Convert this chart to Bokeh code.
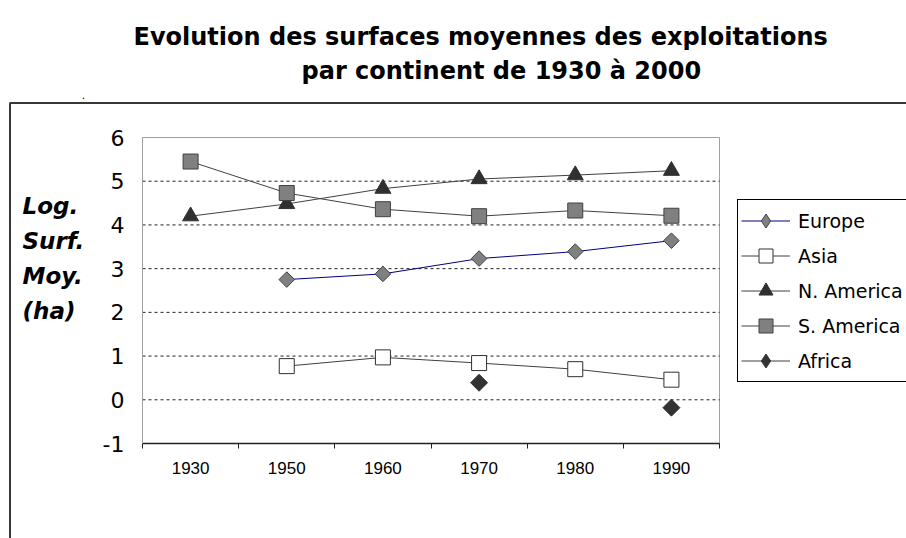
import math
from bokeh.plotting import figure
from bokeh.models import (Range1d, FixedTicker, Label, Legend, LegendItem,
                          BoxAnnotation, ColumnDataSource)
from bokeh.embed import file_html
from bokeh.resources import INLINE

# ---------------- data ----------------
years = ["1930", "1950", "1960", "1970", "1980", "1990"]
nan = float("nan")
europe = [nan, 2.75, 2.88, 3.23, 3.39, 3.64]
asia = [nan, 0.77, 0.97, 0.84, 0.70, 0.46]
n_america = [4.20, 4.48, 4.83, 5.05, 5.14, 5.24]
s_america = [5.45, 4.73, 4.36, 4.20, 4.33, 4.21]
africa = [nan, nan, nan, 0.39, nan, -0.18]
y_ticks = [-1, 0, 1, 2, 3, 4, 5, 6]
grid_ticks = [0, 1, 2, 3, 4, 5]
y_min, y_max = -1, 6

# ---------------- layout (pixels) ----------------
W, H = 906, 538
PL, PR, PT, PB = 142, 719, 137, 443      # plot area in page pixels
n = len(years)
sx = (PR - PL) / n
sy = (PB - PT) / (y_max - y_min)

def px2x(px):
    return (px - PL) / sx

def py2y(py):
    return y_max - (py - PT) / sy

xpos = [i + 0.5 for i in range(n)]

p = figure(width=W, height=H, output_backend="svg", toolbar_location=None,
           x_range=Range1d(px2x(0), px2x(W)), y_range=Range1d(py2y(H), py2y(0)),
           min_border=0, min_border_left=0, min_border_right=0,
           min_border_top=0, min_border_bottom=0)
p.background_fill_color = "white"
p.border_fill_color = "white"
p.outline_line_color = None
p.xgrid.visible = False
p.ygrid.visible = False

# plot-area border (grey)
p.add_layout(BoxAnnotation(left=0, right=n, bottom=y_min, top=y_max,
                           fill_alpha=0, fill_color=None,
                           line_color="#a0a0a0", line_alpha=1, line_width=1,
                           level="underlay"))

# outer chart box
p.add_layout(BoxAnnotation(left=px2x(9.5), right=px2x(W + 20), top=py2y(102.5),
                           bottom=py2y(H + 20), fill_alpha=0, fill_color=None,
                           line_color="#383838", line_alpha=1, line_width=2,
                           level="underlay"))

# dotted horizontal grid
p.segment(x0=[0] * len(grid_ticks), x1=[n] * len(grid_ticks),
          y0=grid_ticks, y1=grid_ticks, line_color="#202020",
          line_dash="3 3", line_width=1)

# axes (inside the frame, at fixed positions)
p.yaxis.fixed_location = 0
p.yaxis.bounds = (y_min, y_max)
p.yaxis.ticker = FixedTicker(ticks=y_ticks)
p.yaxis.major_label_overrides = {t: str(t) for t in y_ticks}
p.yaxis.major_tick_out = 0
p.yaxis.major_tick_in = 0
p.yaxis.minor_tick_line_color = None
p.yaxis.axis_line_color = "#a0a0a0"
p.yaxis.major_label_text_font = "DejaVu Sans"
p.yaxis.major_label_text_font_size = "22px"
p.yaxis.major_label_text_color = "#000000"
p.yaxis.major_label_standoff = 18

p.xaxis.fixed_location = y_min
p.xaxis.bounds = (0, n)
p.xaxis.ticker = FixedTicker(ticks=xpos, minor_ticks=list(range(n + 1)))
p.xaxis.major_label_overrides = {x: y for x, y in zip(xpos, years)}
p.xaxis.major_tick_out = 0
p.xaxis.major_tick_in = 0
p.xaxis.minor_tick_out = 5
p.xaxis.minor_tick_in = 0
p.xaxis.minor_tick_line_color = "#202020"
p.xaxis.axis_line_color = "#202020"
p.xaxis.axis_line_width = 1.5
p.xaxis.major_label_text_font = "Liberation Sans"
p.xaxis.major_label_text_font_size = "17px"
p.xaxis.major_label_text_color = "#000000"
p.xaxis.major_label_standoff = 13

# ---------------- series ----------------
src = ColumnDataSource(dict(x=xpos, europe=europe, asia=asia, na=n_america,
                            sa=s_america, africa=africa))
dummy = ColumnDataSource(dict(x=[nan], y=[nan]))

items = []

l = p.line("x", "europe", source=src, line_color="#000080", line_width=1)
p.scatter("x", "europe", source=src, marker="square", angle=math.pi / 4,
          size=11, fill_color="#808080", line_color="#404040")
lm = p.scatter("x", "y", source=dummy, marker="diamond", size=12,
               fill_color="#808080", line_color="#404040")
items.append(LegendItem(label="Europe", renderers=[l, lm]))

l = p.line("x", "asia", source=src, line_color="#404040", line_width=1)
m = p.scatter("x", "asia", source=src, marker="square", size=15,
              fill_color="white", line_color="#303030")
items.append(LegendItem(label="Asia", renderers=[l, m]))

l = p.line("x", "na", source=src, line_color="#404040", line_width=1)
m = p.scatter("x", "na", source=src, marker="triangle", size=16,
              fill_color="#303030", line_color="#303030")
items.append(LegendItem(label="N. America", renderers=[l, m]))

l = p.line("x", "sa", source=src, line_color="#404040", line_width=1)
m = p.scatter("x", "sa", source=src, marker="square", size=15,
              fill_color="#808080", line_color="#404040")
items.append(LegendItem(label="S. America", renderers=[l, m]))

l = p.line("x", "africa", source=src, line_color="#404040", line_width=1)
p.scatter("x", "africa", source=src, marker="square", angle=math.pi / 4,
          size=12, fill_color="#333333", line_color="#333333")
lm = p.scatter("x", "y", source=dummy, marker="diamond", size=12,
               fill_color="#333333", line_color="#333333")
items.append(LegendItem(label="Africa", renderers=[l, lm]))

LEG_LEFT, LEG_BOTTOM = 737, 382
legend = Legend(items=items, location=(LEG_LEFT, H - LEG_BOTTOM), padding=3,
                spacing=0, margin=0, glyph_width=49, glyph_height=35,
                label_height=35, label_width=300, label_standoff=8,
                label_text_font="DejaVu Sans", label_text_font_size="19px",
                label_text_color="#000000",
                border_line_color="#000000", border_line_width=1,
                border_line_alpha=1,
                background_fill_color="white", background_fill_alpha=1)
p.add_layout(legend)

# ---------------- texts ----------------
def add_text(px, py, text, font, style, size, align="left"):
    p.add_layout(Label(x=px2x(px), y=py2y(py), text=text, text_font=font,
                       text_font_style=style, text_font_size=size,
                       text_align=align, text_baseline="alphabetic",
                       text_color="#000000"))

add_text(133, 36, "Evolution des surfaces moyennes des exploitations",
         "DejaVu Sans", "bold", "24px")
add_text(301, 70, "par continent de 1930 à 2000", "DejaVu Sans", "bold", "24px")
add_text(83, 94, ".", "Liberation Sans", "normal", "12px", "center")

for i, t in enumerate(["Log.", "Surf.", "Moy.", "(ha)"]):
    add_text(22, 205 + 35 * i, t, "DejaVu Sans", "bold italic", "23px")

open("out.html", "w").write(file_html(p, INLINE))
